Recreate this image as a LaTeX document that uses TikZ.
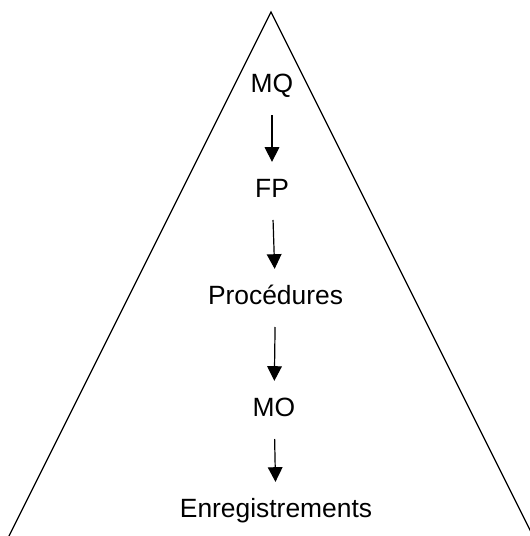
\documentclass[tikz,border=0pt]{standalone}
\usepackage{fontspec}
\setmainfont{Liberation Sans}
\usetikzlibrary{arrows.meta}

\begin{document}
\begin{tikzpicture}[x=0.75pt, y=-0.75pt, line width=0.9pt,
  every node/.style={font=\fontsize{19.8}{24}\selectfont, inner sep=0pt, text height=14.2pt, text depth=0pt, anchor=south},
  flow/.style={-{Triangle[length=11pt, width=11pt]}, shorten <=16.5pt, shorten >=12pt}]

\useasboundingbox (0,0) rectangle (530,536);
\clip (0,0) rectangle (530,536);

\draw (9,536) -- (271,12) -- (533,536);

\node (mq) at (272,93) {MQ};
\node (fp) at (272,198) {FP};
\node (proc) at (275.5,305) {Procédures};
\node (mo) at (274,417) {MO};
\node (enreg) at (276,518) {Enregistrements};

\draw[flow] (mq) -- (fp);
\draw[flow] (fp) -- (proc);
\draw[flow] (proc) -- (mo);
\draw[flow] (mo) -- (enreg);

\end{tikzpicture}
\end{document}
